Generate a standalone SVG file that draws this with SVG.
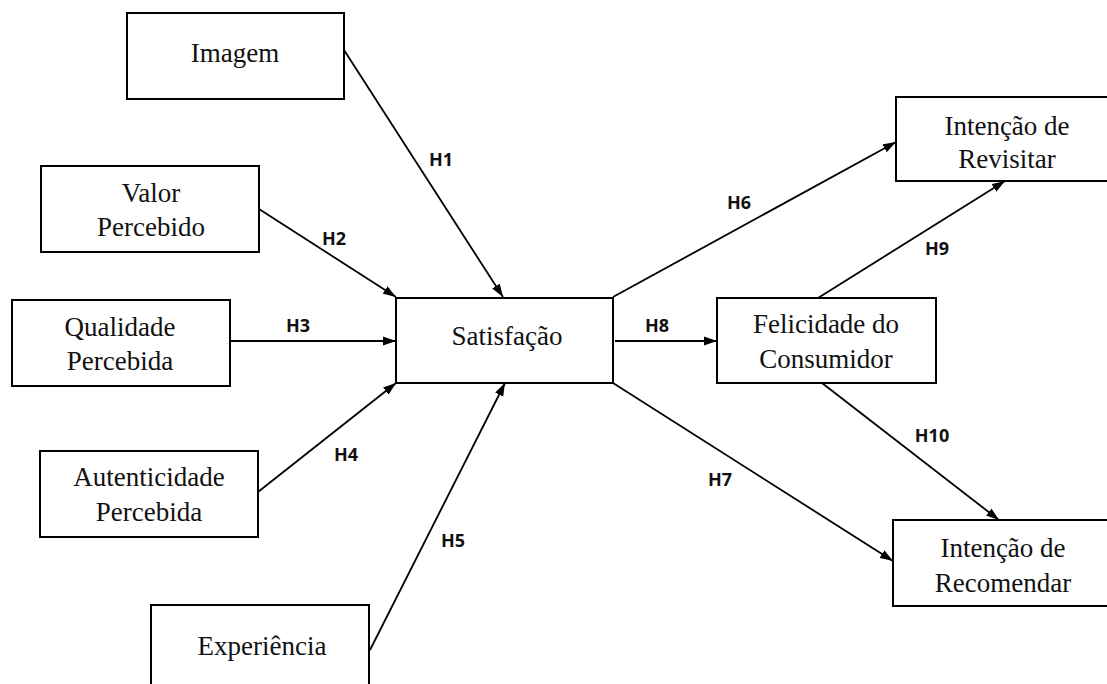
<svg xmlns="http://www.w3.org/2000/svg" width="1107" height="684" viewBox="0 0 1107 684">
<style>
.box{fill:#fff;stroke:#000;stroke-width:2}
.t{font-family:"Liberation Serif","Times New Roman",serif;font-size:27px;fill:#111;text-anchor:middle}
.e{stroke:#000;stroke-width:1.8;fill:none;marker-end:url(#ah)}
.h{font-family:"Open Sans","Liberation Sans",Arial,sans-serif;font-size:18px;font-weight:bold;fill:#111;text-anchor:middle}
</style>
<defs>
<marker id="ah" markerUnits="userSpaceOnUse" markerWidth="14" markerHeight="10" refX="13" refY="5" orient="auto">
<path d="M0,0.5 L13,5 L0,9.5 z" fill="#000"/>
</marker>
</defs>
<rect width="1107" height="684" fill="#fff"/>
<g id="connectors">
<line class="e" x1="344" y1="50" x2="503" y2="297"/>
<line class="e" x1="259" y1="209" x2="396" y2="297"/>
<line class="e" x1="230" y1="341" x2="396" y2="341"/>
<line class="e" x1="258" y1="492" x2="396" y2="383"/>
<line class="e" x1="370" y1="650" x2="505" y2="383"/>
<line class="e" x1="613" y1="297" x2="896" y2="142"/>
<line class="e" x1="613" y1="383" x2="893" y2="561"/>
<line class="e" x1="615" y1="341" x2="717" y2="341"/>
<line class="e" x1="818" y1="298" x2="1005" y2="181"/>
<line class="e" x1="822" y1="383" x2="999" y2="520"/>
<text class="h" x="441" y="166">H1</text>
<text class="h" x="334" y="245">H2</text>
<text class="h" x="298" y="332">H3</text>
<text class="h" x="346" y="461">H4</text>
<text class="h" x="453" y="547">H5</text>
<text class="h" x="739" y="209">H6</text>
<text class="h" x="720" y="486">H7</text>
<text class="h" x="657" y="332">H8</text>
<text class="h" x="937" y="255">H9</text>
<text class="h" x="932" y="442">H10</text>
</g>
<g id="imagem">
<rect class="box" x="127" y="13" width="217" height="86"/>
<text class="t" x="235" y="62">Imagem</text>
</g>
<g id="valor">
<rect class="box" x="41" y="166" width="218" height="86"/>
<text class="t" x="151" y="202">Valor</text>
<text class="t" x="151" y="236">Percebido</text>
</g>
<g id="qualidade">
<rect class="box" x="12" y="300" width="218" height="86"/>
<text class="t" x="120" y="336">Qualidade</text>
<text class="t" x="120" y="370">Percebida</text>
</g>
<g id="autenticidade">
<rect class="box" x="40" y="451" width="218" height="86"/>
<text class="t" x="149" y="486">Autenticidade</text>
<text class="t" x="149" y="521">Percebida</text>
</g>
<g id="experiencia">
<rect class="box" x="151" y="605" width="218" height="90"/>
<text class="t" x="262" y="655">Experiência</text>
</g>
<g id="satisfacao">
<rect class="box" x="396" y="298" width="217" height="85"/>
<text class="t" x="507" y="345">Satisfação</text>
</g>
<g id="felicidade">
<rect class="box" x="717" y="298" width="219" height="85"/>
<text class="t" x="826" y="333">Felicidade do</text>
<text class="t" x="826" y="368">Consumidor</text>
</g>
<g id="revisitar">
<rect class="box" x="896" y="97" width="222" height="84"/>
<text class="t" x="1007" y="135">Intenção de</text>
<text class="t" x="1007" y="168">Revisitar</text>
</g>
<g id="recomendar">
<rect class="box" x="893" y="520" width="225" height="86"/>
<text class="t" x="1003" y="557">Intenção de</text>
<text class="t" x="1003" y="592">Recomendar</text>
</g>
</svg>
